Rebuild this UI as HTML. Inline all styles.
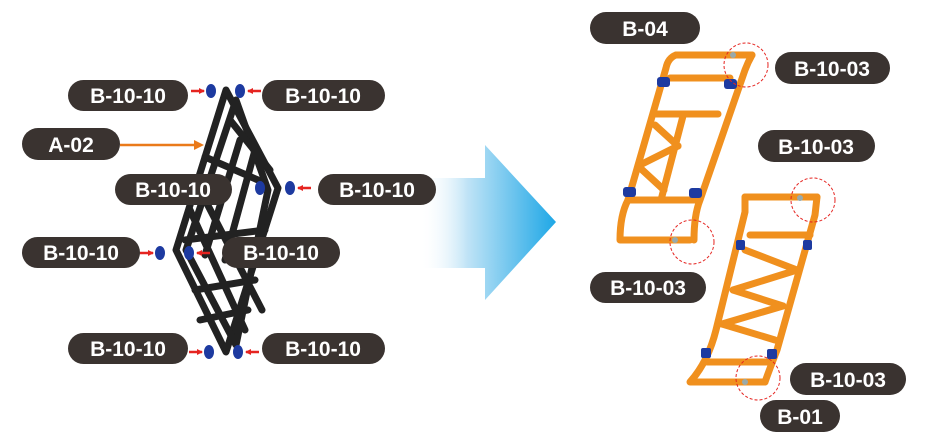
<!DOCTYPE html>
<html><head><style>
body{margin:0;background:#fff;}
svg{display:block;}
text{font-family:"Liberation Sans",Arial,sans-serif;font-weight:bold;fill:#fff;font-size:21px;text-anchor:middle;}
</style></head><body>
<svg width="939" height="445" viewBox="0 0 939 445" xmlns="http://www.w3.org/2000/svg">
<defs>
<linearGradient id="g" x1="0" x2="1" y1="0" y2="0">
<stop offset="0" stop-color="#fff" stop-opacity="0"/>
<stop offset="0.35" stop-color="#bfe3f6"/>
<stop offset="1" stop-color="#1ea7e6"/>
</linearGradient>
<marker id="ra" markerWidth="6" markerHeight="6" refX="5" refY="3" orient="auto" markerUnits="userSpaceOnUse"><polygon points="0,0 6,3 0,6" fill="#e52420"/></marker>
</defs>
<polygon points="420,178 485,178 485,145 556,222 485,300 485,268 420,268" fill="url(#g)"/>

<g stroke="#222" stroke-width="7" fill="none" stroke-linecap="round" stroke-linejoin="round">
<polyline points="226,90 176,250 226,352 278,188 226,90"/>
<polyline points="236,100 186,250 236,345 268,190 236,100"/>
<line x1="205" y1="157" x2="258" y2="180"/>
<line x1="240" y1="140" x2="205" y2="255"/>
<line x1="255" y1="150" x2="225" y2="260"/>
<line x1="190" y1="210" x2="245" y2="330"/>
<line x1="200" y1="190" x2="262" y2="310"/>
<line x1="185" y1="240" x2="265" y2="230"/>
<line x1="195" y1="290" x2="255" y2="280"/>
<line x1="200" y1="320" x2="248" y2="310"/>
<line x1="230" y1="120" x2="270" y2="170"/>
</g>
<g fill="#1d3aa0">
<ellipse cx="211" cy="91" rx="5" ry="7"/><ellipse cx="240" cy="91" rx="5" ry="7"/>
<ellipse cx="260" cy="188" rx="5" ry="7"/><ellipse cx="290" cy="188" rx="5" ry="7"/>
<ellipse cx="160" cy="253" rx="5" ry="7"/><ellipse cx="189" cy="253" rx="5" ry="7"/>
<ellipse cx="209" cy="352" rx="5" ry="7"/><ellipse cx="238" cy="352" rx="5" ry="7"/>
</g>
<g stroke="#e52420" stroke-width="2.5" marker-end="url(#ra)">
<line x1="191" y1="91" x2="204" y2="91"/><line x1="261" y1="91" x2="248" y2="91"/>
<line x1="311" y1="188" x2="298" y2="188"/>
<line x1="140" y1="253" x2="153" y2="253"/><line x1="210" y1="253" x2="197" y2="253"/>
<line x1="189" y1="352" x2="202" y2="352"/><line x1="259" y1="352" x2="246" y2="352"/>
</g>
<line x1="120" y1="145" x2="198" y2="145" stroke="#ea7a1a" stroke-width="2.5"/>
<polygon points="204,145 194,140 194,150" fill="#ea7a1a"/>

<g stroke="#f0901e" stroke-width="7" fill="none" stroke-linecap="round" stroke-linejoin="round">
<line x1="676" y1="55" x2="752" y2="55"/>
<path d="M676,55 Q668,58 666,68 L628,200 Q620,215 620,240 L690,240"/>
<path d="M752,55 Q748,62 745,70 L700,200 Q694,215 694,240"/>
<line x1="670" y1="78" x2="730" y2="78"/>
<line x1="656" y1="114" x2="718" y2="114"/>
<line x1="628" y1="200" x2="695" y2="200"/>
<line x1="683" y1="116" x2="661" y2="200"/>
<line x1="655" y1="125" x2="678" y2="146"/>
<line x1="678" y1="146" x2="638" y2="166"/>
<line x1="638" y1="166" x2="664" y2="190"/>
<line x1="745" y1="197" x2="817" y2="197"/>
<path d="M745,197 L745,212 L716,330 Q708,362 690,382 L765,382"/>
<path d="M817,197 L815,215 L777,350 Q770,368 765,382"/>
<line x1="750" y1="235" x2="810" y2="235"/>
<line x1="707" y1="362" x2="768" y2="362"/>
<line x1="745" y1="250" x2="797" y2="270"/>
<line x1="797" y1="270" x2="733" y2="290"/>
<line x1="733" y1="290" x2="783" y2="306"/>
<line x1="783" y1="306" x2="722" y2="324"/>
<line x1="722" y1="324" x2="775" y2="340"/>
</g>
<g fill="#1d3aa0">
<rect x="657" y="77" width="13" height="10" rx="3"/><rect x="724" y="79" width="13" height="10" rx="3"/>
<rect x="623" y="187" width="13" height="10" rx="3"/><rect x="689" y="188" width="13" height="10" rx="3"/>
<rect x="736" y="240" width="9" height="10" rx="2"/><rect x="803" y="240" width="9" height="10" rx="2"/>
<rect x="701" y="348" width="10" height="10" rx="2"/><rect x="767" y="349" width="10" height="10" rx="2"/>
</g>
<g fill="none" stroke="#e52420" stroke-width="1" stroke-dasharray="3,2">
<circle cx="746" cy="65" r="22"/><circle cx="692" cy="242" r="22"/>
<circle cx="813" cy="200" r="22"/><circle cx="758" cy="378" r="22"/>
</g>
<g fill="#9aa">
<circle cx="733" cy="55" r="3"/><circle cx="675" cy="240" r="3"/><circle cx="800" cy="198" r="3"/><circle cx="745" cy="382" r="3"/>
</g>

<g fill="#3a3330">
<rect x="68" y="80" width="120" height="31" rx="15.5"/>
<rect x="262" y="80" width="123" height="31" rx="15.5"/>
<rect x="22" y="128" width="98" height="32" rx="16"/>
<rect x="115" y="174" width="117" height="31" rx="15.5"/>
<rect x="318" y="174" width="118" height="31" rx="15.5"/>
<rect x="22" y="237" width="118" height="31" rx="15.5"/>
<rect x="222" y="237" width="118" height="31" rx="15.5"/>
<rect x="68" y="333" width="120" height="31" rx="15.5"/>
<rect x="262" y="333" width="123" height="31" rx="15.5"/>
<rect x="590" y="12" width="110" height="32" rx="16"/>
<rect x="775" y="52" width="115" height="32" rx="16"/>
<rect x="758" y="130" width="117" height="32" rx="16"/>
<rect x="590" y="272" width="116" height="31" rx="15.5"/>
<rect x="790" y="363" width="116" height="32" rx="16"/>
<rect x="760" y="400" width="80" height="32" rx="16"/>
</g>
<text x="128" y="103">B-10-10</text>
<text x="323" y="103">B-10-10</text>
<text x="71" y="152" font-size="23">A-02</text>
<text x="173" y="197">B-10-10</text>
<text x="377" y="197">B-10-10</text>
<text x="81" y="260">B-10-10</text>
<text x="281" y="260">B-10-10</text>
<text x="128" y="356">B-10-10</text>
<text x="323" y="356">B-10-10</text>
<text x="645" y="36" font-size="23">B-04</text>
<text x="832" y="76">B-10-03</text>
<text x="816" y="154">B-10-03</text>
<text x="648" y="295">B-10-03</text>
<text x="848" y="387">B-10-03</text>
<text x="800" y="424" font-size="23">B-01</text>
</svg>
</body></html>
